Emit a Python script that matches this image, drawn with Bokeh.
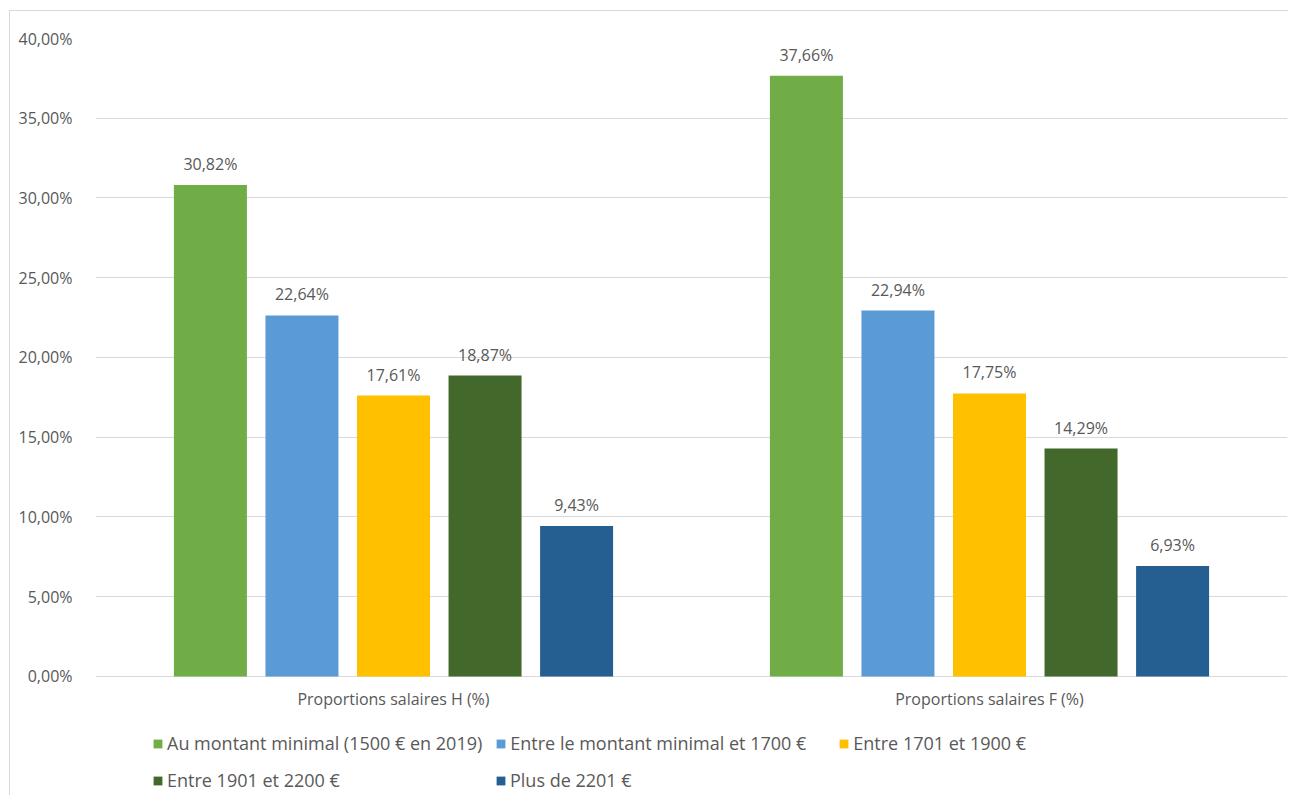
from bokeh.plotting import figure
from bokeh.models import (ColumnDataSource, FactorRange, Range1d, Legend, LegendItem,
                          CustomJSTickFormatter)
from bokeh.transform import dodge
from bokeh.core.properties import value
from bokeh.embed import file_html
from bokeh.resources import INLINE

categories = ["Proportions salaires H (%)", "Proportions salaires F (%)"]
series_names = ["Au montant minimal (1500 € en 2019)", "Entre le montant minimal et 1700 €",
                "Entre 1701 et 1900 €", "Entre 1901 et 2200 €", "Plus de 2201 €"]
values_min = [30.82, 37.66]
values_1700 = [22.64, 22.94]
values_1900 = [17.61, 17.75]
values_2200 = [18.87, 14.29]
values_plus = [9.43, 6.93]
y_ticks = [0, 5, 10, 15, 20, 25, 30, 35, 40]
colors = ["#70AD47", "#5B9BD5", "#FFC000", "#43682B", "#255E91"]

FONT = "Open Sans"
TXT = "#595959"

# frame extends below the 0% line so the legend can live inside it
p = figure(x_range=FactorRange(*categories, range_padding=0), y_range=Range1d(-7.461, 40),
           frame_width=1192, frame_height=757, output_backend="svg", toolbar_location=None,
           min_border_left=85, min_border_right=1, min_border_top=27, min_border_bottom=0)
p.outline_line_color = None
p.styles = {"margin-left": "9px", "margin-top": "10px",
            "border-left": "1px solid #d9d9d9", "border-top": "1px solid #d9d9d9"}

fmt = lambda v: f"{v:.2f}%".replace(".", ",")
src = ColumnDataSource(dict(cat=categories, s0=values_min, s1=values_1700, s2=values_1900,
                            s3=values_2200, s4=values_plus,
                            l0=[fmt(v) for v in values_min],
                            l1=[fmt(v) for v in values_1700],
                            l2=[fmt(v) for v in values_1900],
                            l3=[fmt(v) for v in values_2200],
                            l4=[fmt(v) for v in values_plus]))

step = 0.1536
bw = 0.1225
items = []
for i in range(5):
    off = (i - 2) * step
    r = p.vbar(x=dodge("cat", off, range=p.x_range), top=f"s{i}", bottom=0, width=bw,
               source=src, fill_color=colors[i], line_color=None)
    items.append(LegendItem(label=series_names[i], renderers=[r]))
    p.text(x=dodge("cat", off, range=p.x_range), y=f"s{i}", text=f"l{i}", source=src,
           text_align="center", text_baseline="bottom", y_offset=-10,
           text_font=value(FONT), text_font_size="16px", text_color=TXT)

p.xgrid.grid_line_color = None
p.ygrid.grid_line_color = "#d9d9d9"
p.ygrid.grid_line_width = 1
p.yaxis.axis_line_color = None
p.yaxis.major_tick_line_color = None
p.yaxis.minor_tick_line_color = None
p.yaxis.ticker = y_ticks
p.yaxis.formatter = CustomJSTickFormatter(code="return tick.toFixed(2).replace('.', ',') + '%';")
p.yaxis.major_label_text_font = FONT
p.yaxis.major_label_text_font_size = "16px"
p.yaxis.major_label_text_color = TXT
p.yaxis.major_label_standoff = 17

p.xaxis.fixed_location = 0
p.xaxis.axis_line_color = None
p.xaxis.major_tick_line_color = None
p.xaxis.minor_tick_line_color = None
p.xaxis.major_label_text_font = FONT
p.xaxis.major_label_text_font_size = "16px"
p.xaxis.major_label_text_color = TXT
p.xaxis.major_label_standoff = 6

common = dict(label_text_font=FONT, label_text_font_size="18px", label_text_color=TXT,
              glyph_width=11, glyph_height=11, label_standoff=4, label_width=315,
              label_height=24, border_line_color=None, background_fill_alpha=0, padding=0,
              margin=0, spacing=13, orientation="horizontal")
leg1 = Legend(items=items[:3], location=(57, 40), **common)
leg2 = Legend(items=items[3:], location=(57, 3), **common)
p.add_layout(leg1, "center")
p.add_layout(leg2, "center")

open("out.html", "w").write(file_html(p, INLINE))
